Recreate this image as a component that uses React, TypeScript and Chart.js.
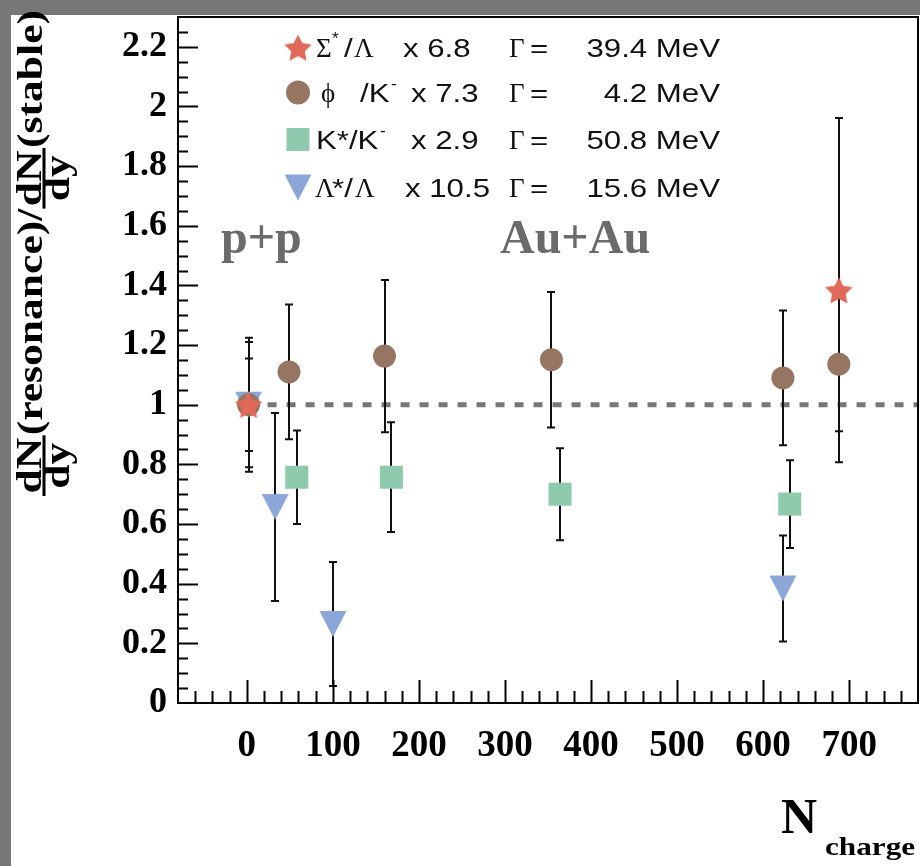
import React, { useEffect, useRef } from "react";
import { Chart, registerables } from "chart.js";

Chart.register(...registerables);

// ---------------- data ----------------
// Sigma*/Lambda (x 6.8)
const sigmaX = [2, 688];
const sigmaY = [1.0, 1.384];
const sigmaErr = [0.21, 0.577];

// phi/K- (x 7.3)
const phiX = [2, 49, 160, 354, 623, 688];
const phiY = [1.0, 1.11, 1.163, 1.151, 1.09, 1.136];
const phiErr = [0.225, 0.226, 0.255, 0.227, 0.226, 0.225];

// K*/K- (x 2.9)
const kstarX = [58, 168, 364, 631];
const kstarY = [0.757, 0.757, 0.7, 0.667];
const kstarErr = [0.157, 0.184, 0.154, 0.147];

// Lambda*/Lambda (x 10.5)
const lstarX = [2, 33, 100, 623];
const lstarY = [1.0, 0.657, 0.265, 0.384];
const lstarErr = [0.155, 0.315, 0.208, 0.178];

const X_MIN = -80;
const X_MAX = 780;
const Y_MIN = 0;
const Y_MAX = 2.3;
const X_STEP = 100;
const Y_STEP = 0.2;
const REF_Y = 1;
const REF_X0 = 2;

const SYSTEM_LABELS = ["p+p", "Au+Au"];

const SERIF = '"Liberation Serif", "Times New Roman", serif';
const SANS = '"Liberation Sans", Arial, sans-serif';

const C_STAR = "#e0695a";
const C_PHI = "#967662";
const C_KSTAR = "#8fc9ae";
const C_LSTAR = "#8ca6d8";

type Seg = { t: string; x: number; serif?: boolean; sup?: boolean; right?: boolean };

const LEGEND_ROWS: Seg[][] = [
  [
    { t: "Σ", x: 316, serif: true },
    { t: "*", x: 332, sup: true },
    { t: "/", x: 344 },
    { t: "Λ", x: 354, serif: true },
    { t: "x 6.8", x: 403 },
    { t: "Γ", x: 509, serif: true },
    { t: "=", x: 530 },
    { t: "39.4 MeV", x: 720, right: true },
  ],
  [
    { t: "ϕ", x: 321, serif: true },
    { t: "/K", x: 360 },
    { t: "-", x: 391, sup: true },
    { t: "x 7.3", x: 411 },
    { t: "Γ", x: 509, serif: true },
    { t: "=", x: 530 },
    { t: "4.2 MeV", x: 720, right: true },
  ],
  [
    { t: "K*/K", x: 316 },
    { t: "-", x: 380, sup: true },
    { t: "x 2.9", x: 411 },
    { t: "Γ", x: 509, serif: true },
    { t: "=", x: 530 },
    { t: "50.8 MeV", x: 720, right: true },
  ],
  [
    { t: "Λ", x: 315, serif: true },
    { t: "*/", x: 332 },
    { t: "Λ", x: 355, serif: true },
    { t: "x 10.5", x: 405 },
    { t: "Γ", x: 509, serif: true },
    { t: "=", x: 530 },
    { t: "15.6 MeV", x: 720, right: true },
  ],
];
const LEGEND_BASELINES = [57, 102, 149, 197];

// ---------------- marker images ----------------
function makeStar(color: string) {
  const s = 30;
  const c = document.createElement("canvas");
  c.width = s;
  c.height = s;
  const g = c.getContext("2d")!;
  const R = 14.5;
  const r = R * 0.5;
  const cx = s / 2;
  const cy = s / 2 + 1.4;
  g.beginPath();
  for (let i = 0; i < 10; i++) {
    const a = -Math.PI / 2 + (i * Math.PI) / 5;
    const rr = i % 2 === 0 ? R : r;
    g.lineTo(cx + rr * Math.cos(a), cy + rr * Math.sin(a));
  }
  g.closePath();
  g.fillStyle = color;
  g.fill();
  return c;
}

function makeTriDown(color: string) {
  const c = document.createElement("canvas");
  c.width = 28;
  c.height = 28;
  const g = c.getContext("2d")!;
  g.beginPath();
  g.moveTo(0.5, 1);
  g.lineTo(27.5, 1);
  g.lineTo(14, 27);
  g.closePath();
  g.fillStyle = color;
  g.fill();
  return c;
}

function txt(
  ctx: CanvasRenderingContext2D,
  s: string,
  x: number,
  y: number,
  font: string,
  opts: { color?: string; align?: CanvasTextAlign; sx?: number } = {}
) {
  ctx.save();
  ctx.font = font;
  ctx.fillStyle = opts.color || "#000";
  ctx.textAlign = opts.align || "left";
  ctx.textBaseline = "alphabetic";
  ctx.translate(x, y);
  ctx.scale(opts.sx || 1, 1);
  ctx.fillText(s, 0, 0);
  ctx.restore();
}

export default function App() {
  const ref = useRef<HTMLCanvasElement>(null);

  useEffect(() => {
    const starImg = makeStar(C_STAR);
    const triImg = makeTriDown(C_LSTAR);

    const mk = (xs: number[], ys: number[]) => xs.map((x, i) => ({ x, y: ys[i] }));

    const bgPlugin = {
      id: "bg",
      beforeDraw(chart: any) {
        const { ctx, width, height } = chart;
        ctx.save();
        ctx.fillStyle = "#777777";
        ctx.fillRect(0, 0, width, height);
        ctx.fillStyle = "#ffffff";
        ctx.fillRect(11, 15, width - 11, height - 15);
        ctx.restore();
      },
    };

    const errPlugin = {
      id: "errbars",
      beforeDatasetsDraw(chart: any) {
        const { ctx, chartArea } = chart;
        const xs = chart.scales.x;
        const ys = chart.scales.y;
        ctx.save();
        // reference line
        ctx.strokeStyle = "#777777";
        ctx.lineWidth = 5;
        ctx.setLineDash([9, 10]);
        ctx.beginPath();
        const yr = ys.getPixelForValue(REF_Y);
        ctx.moveTo(xs.getPixelForValue(REF_X0), yr);
        ctx.lineTo(chartArea.right, yr);
        ctx.stroke();
        ctx.setLineDash([]);
        // error bars
        ctx.strokeStyle = "#111111";
        ctx.lineWidth = 2;
        chart.data.datasets.forEach((ds: any) => {
          ds.data.forEach((p: any, i: number) => {
            const e = ds.errors[i];
            const px = Math.round(xs.getPixelForValue(p.x));
            const t = ys.getPixelForValue(p.y + e);
            const b = ys.getPixelForValue(p.y - e);
            ctx.beginPath();
            ctx.moveTo(px, t);
            ctx.lineTo(px, b);
            ctx.moveTo(px - 4, t);
            ctx.lineTo(px + 4, t);
            ctx.moveTo(px - 4, b);
            ctx.lineTo(px + 4, b);
            ctx.stroke();
          });
        });
        ctx.restore();
      },
    };

    const decoPlugin = {
      id: "deco",
      afterDraw(chart: any) {
        const { ctx, chartArea } = chart;
        const xs = chart.scales.x;
        const ys = chart.scales.y;
        const { left, right, top, bottom } = chartArea;
        ctx.save();
        // frame
        ctx.strokeStyle = "#000";
        ctx.lineWidth = 2;
        ctx.strokeRect(left, top, right - left, bottom - top);
        // x ticks (inside)
        ctx.beginPath();
        for (let v = X_MIN + 20; v < X_MAX; v += 20) {
          const px = Math.round(xs.getPixelForValue(v)) + 0.5;
          const len = v % 100 === 0 ? 23 : 12;
          ctx.moveTo(px, bottom);
          ctx.lineTo(px, bottom - len);
        }
        // y ticks (inside)
        for (let k = 1; k * 0.05 < Y_MAX - 1e-9; k++) {
          const py = Math.round(ys.getPixelForValue(k * 0.05)) + 0.5;
          const len = k % 4 === 0 ? 20 : 10;
          ctx.moveTo(left, py);
          ctx.lineTo(left + len, py);
        }
        ctx.stroke();
        ctx.restore();

        // system labels
        txt(ctx, SYSTEM_LABELS[0], 221, 253, `bold 48px ${SERIF}`, { color: "#6b6b6b" });
        txt(ctx, SYSTEM_LABELS[1], 500, 253, `bold 48px ${SERIF}`, { color: "#6b6b6b" });

        // legend
        LEGEND_ROWS.forEach((row, ri) => {
          const base = LEGEND_BASELINES[ri];
          const cy = base - 9.5;
          const mx = 298;
          if (ri === 0) ctx.drawImage(starImg, mx - 15, cy - 15);
          if (ri === 1) {
            ctx.fillStyle = C_PHI;
            ctx.beginPath();
            ctx.arc(mx, cy, 12, 0, Math.PI * 2);
            ctx.fill();
          }
          if (ri === 2) {
            ctx.fillStyle = C_KSTAR;
            ctx.fillRect(mx - 11.5, cy - 11.5, 23, 23);
          }
          if (ri === 3) ctx.drawImage(triImg, mx - 14, cy - 14);
          row.forEach((s) => {
            if (s.sup) {
              txt(ctx, s.t, s.x, base - 13, `17px ${SANS}`, { color: "#111" });
            } else if (s.serif) {
              txt(ctx, s.t, s.x, base, `27px ${SERIF}`, { color: "#111" });
            } else {
              txt(ctx, s.t, s.x, base, `26px ${SANS}`, {
                color: "#111",
                sx: 1.2,
                align: s.right ? "right" : "left",
              });
            }
          });
        });

        // x title
        txt(ctx, "N", 781, 833, `bold 50px ${SERIF}`);
        txt(ctx, "charge", 825, 855, `bold 26px ${SERIF}`, { sx: 1.2 });

        // y title (rotated)
        ctx.save();
        const font = `bold 35px ${SERIF}`;
        ctx.font = font;
        const wdN = ctx.measureText("dN").width;
        const wdy = ctx.measureText("dy").width;
        const wRes = ctx.measureText("(resonance)/").width;
        const wSt = ctx.measureText("(stable)").width;
        const fw = Math.max(wdN, wdy) + 4;
        const total = fw + wRes + fw + wSt;
        const yBottom = 496;
        const yTop = 10;
        const k = (yBottom - yTop) / total;
        ctx.translate(0, yBottom);
        ctx.rotate(-Math.PI / 2);
        ctx.scale(k, 1);
        ctx.fillStyle = "#000";
        ctx.textBaseline = "alphabetic";
        const vNum = 41;
        const vBar = 44;
        const vDen = 69;
        const vMid = 42;
        let u = 0;
        const frac = () => {
          ctx.textAlign = "center";
          ctx.fillText("dN", u + fw / 2, vNum);
          ctx.fillText("dy", u + fw / 2, vDen);
          ctx.fillRect(u, vBar - 1.5, fw, 3);
          u += fw;
        };
        frac();
        ctx.textAlign = "left";
        ctx.fillText("(resonance)/", u, vMid);
        u += wRes;
        frac();
        ctx.textAlign = "left";
        ctx.fillText("(stable)", u, vMid);
        ctx.restore();
      },
    };

    const chart = new Chart(ref.current!, {
      type: "scatter",
      data: {
        datasets: [
          {
            label: "Sigma*/Lambda",
            data: mk(sigmaX, sigmaY),
            errors: sigmaErr,
            pointStyle: starImg,
            pointRadius: 14,
            backgroundColor: C_STAR,
            borderWidth: 0,
          } as any,
          {
            label: "phi/K",
            data: mk(phiX, phiY),
            errors: phiErr,
            pointStyle: "circle",
            pointRadius: 11.5,
            backgroundColor: C_PHI,
            borderColor: C_PHI,
            borderWidth: 0,
          } as any,
          {
            label: "K*/K",
            data: mk(kstarX, kstarY),
            errors: kstarErr,
            pointStyle: "rect",
            pointRadius: 16.3,
            backgroundColor: C_KSTAR,
            borderColor: C_KSTAR,
            borderWidth: 0,
          } as any,
          {
            label: "Lambda*/Lambda",
            data: mk(lstarX, lstarY),
            errors: lstarErr,
            pointStyle: triImg,
            pointRadius: 14,
            backgroundColor: C_LSTAR,
            borderWidth: 0,
          } as any,
        ],
      },
      options: {
        responsive: false,
        animation: false,
        devicePixelRatio: 1,
        events: [],
        layout: { autoPadding: false, padding: { top: 17, right: 2, bottom: 0, left: 0 } },
        plugins: { legend: { display: false }, tooltip: { enabled: false } },
        scales: {
          x: {
            type: "linear",
            position: "bottom",
            min: X_MIN,
            max: X_MAX,
            grid: { display: false, drawTicks: false },
            border: { display: false },
            ticks: {
              stepSize: X_STEP,
              includeBounds: false,
              autoSkip: false,
              maxRotation: 0,
              padding: 21,
              color: "#000",
              font: { family: SERIF, size: 37, weight: "bold" },
              callback: (v: any) => String(Math.round(Number(v))),
            },
            afterFit: (s: any) => {
              s.height = 163;
              s.paddingLeft = 0;
              s.paddingRight = 0;
            },
          },
          y: {
            type: "linear",
            min: Y_MIN,
            max: Y_MAX,
            grid: { display: false, drawTicks: false },
            border: { display: false },
            ticks: {
              stepSize: Y_STEP,
              includeBounds: false,
              maxTicksLimit: 100,
              autoSkip: false,
              padding: 11,
              color: "#000",
              font: { family: SERIF, size: 36, weight: "bold" },
              callback: (v: any) => String(Math.round(Number(v) * 10) / 10),
            },
            afterFit: (s: any) => {
              s.width = 178;
              s.paddingTop = 0;
              s.paddingBottom = 0;
            },
          },
        },
      } as any,
      plugins: [bgPlugin, errPlugin, decoPlugin],
    });
    return () => chart.destroy();
  }, []);

  return (
    <div style={{ position: "absolute", left: 0, top: 0, width: 920, height: 866 }}>
      <canvas ref={ref} width={920} height={866} style={{ display: "block" }} />
    </div>
  );
}
